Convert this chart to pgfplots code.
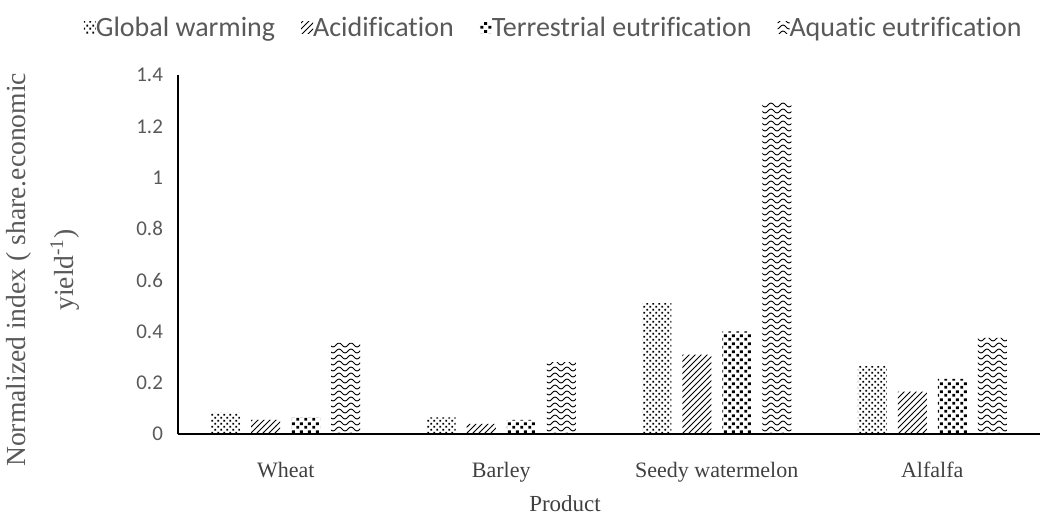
\documentclass[border=0pt]{standalone}
\usepackage{pgfplots}
\pgfplotsset{compat=1.18}
\usepackage{fontspec}
\setmainfont{Liberation Serif}
\newfontfamily\calib[Ligatures=NoCommon]{Carlito}
\usetikzlibrary{patterns}
\definecolor{txt}{HTML}{595959}
\definecolor{ttl}{HTML}{404040}

\pgfdeclarepatternformonly{gwdots}{\pgfqpoint{0pt}{0pt}}{\pgfqpoint{3.2pt}{3.2pt}}{\pgfqpoint{3.2pt}{3.2pt}}{
  \pgfpathrectangle{\pgfqpoint{0.2pt}{0.2pt}}{\pgfqpoint{1pt}{1pt}}
  \pgfpathrectangle{\pgfqpoint{1.8pt}{1.8pt}}{\pgfqpoint{1pt}{1pt}}
  \pgfusepath{fill}
}
\pgfdeclarepatternformonly{tsquares}{\pgfqpoint{0pt}{0pt}}{\pgfqpoint{4pt}{4pt}}{\pgfqpoint{4pt}{4pt}}{
  \pgfpathrectangle{\pgfqpoint{0.2pt}{0.2pt}}{\pgfqpoint{1.6pt}{1.5pt}}
  \pgfpathrectangle{\pgfqpoint{2.2pt}{2.2pt}}{\pgfqpoint{1.6pt}{1.5pt}}
  \pgfusepath{fill}
}
\pgfdeclarepatternformonly{awaves}{\pgfqpoint{-0.5pt}{-0.5pt}}{\pgfqpoint{6.5pt}{3.5pt}}{\pgfqpoint{6pt}{3pt}}{
  \pgfsetlinewidth{0.5pt}
  \pgfpathmoveto{\pgfqpoint{0pt}{1.5pt}}
  \pgfpathcurveto{\pgfqpoint{1pt}{2.8pt}}{\pgfqpoint{2pt}{2.8pt}}{\pgfqpoint{3pt}{1.5pt}}
  \pgfpathcurveto{\pgfqpoint{4pt}{0.2pt}}{\pgfqpoint{5pt}{0.2pt}}{\pgfqpoint{6pt}{1.5pt}}
  \pgfusepath{stroke}
}

\begin{document}
\begin{tikzpicture}
\begin{axis}[
  scale only axis,
  width=431pt, height=179.5pt,
  ybar, bar width=14.5pt,
  xmin=-0.5, xmax=3.5,
  ymin=0, ymax=1.4,
  xtick={0,1,2,3},
  xticklabels={Wheat,Barley,Seedy watermelon,Alfalfa},
  ytick={0,0.2,...,1.4},
  yticklabels={0,0.2,0.4,0.6,0.8,1,1.2,1.4},
  major tick length=0pt,
  axis x line*=bottom,
  axis y line*=left,
  axis line style={black, line width=0.7pt},
  x axis line style={-}, y axis line style={-},
  tick label style={text=txt},
  yticklabel style={font=\calib\fontsize{10.5}{12}\selectfont, xshift=-4pt},
  xticklabel style={font=\fontsize{11}{13}\selectfont, text=ttl, yshift=-10.5pt},
  xlabel={Product},
  xlabel style={font=\fontsize{11.5}{13}\selectfont, text=ttl, at={(axis description cs:0.449,0)}, anchor=center, yshift=-35pt},
  ylabel={Normalized index ( share.economic\\yield\textsuperscript{-1})},
  ylabel style={font=\fontsize{13.8}{24}\selectfont, text=txt, align=center, at={(axis description cs:-0.1566,0.457)}, anchor=center},
  legend columns=4,
  legend style={draw=none, at={(0.437,1.131)}, anchor=center, font=\calib\fontsize{14}{16}\selectfont, text=txt, /tikz/every even column/.append style={column sep=11pt}, /tikz/every odd column/.append style={column sep=-2pt}},
  legend image code/.code={\fill[#1] (0pt,-3pt) rectangle (6pt,3pt);},
]
\coordinate (bl) at (rel axis cs:0,0);
\coordinate (tr) at (rel axis cs:1,1);
\addplot[draw=none, pattern=gwdots, bar shift=-30pt] coordinates {(0,0.082) (1,0.065) (2,0.51) (3,0.265)};
\addplot[draw=none, pattern=north east lines, bar shift=-10pt] coordinates {(0,0.055) (1,0.04) (2,0.31) (3,0.165)};
\addplot[draw=none, pattern=tsquares, bar shift=10pt] coordinates {(0,0.066) (1,0.055) (2,0.40) (3,0.215)};
\addplot[draw=none, pattern=awaves, bar shift=30pt] coordinates {(0,0.355) (1,0.28) (2,1.295) (3,0.375)};
\legend{Global warming, Acidification, Terrestrial eutrification, Aquatic eutrification}
\end{axis}
\pgfresetboundingbox
\path[use as bounding box] ([shift={(-89pt,-41pt)}]bl) rectangle ([shift={(7.5pt,37.5pt)}]tr);
\end{tikzpicture}
\end{document}
